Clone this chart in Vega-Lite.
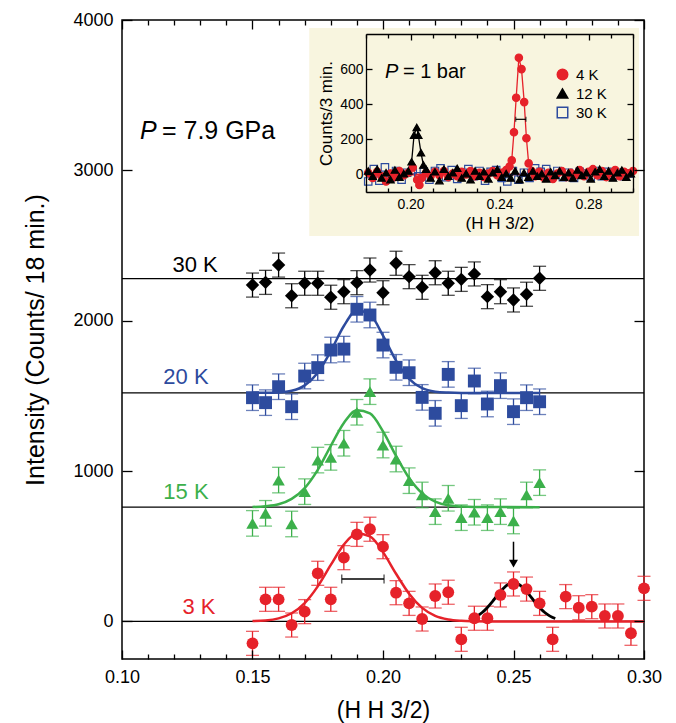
{
"$schema":"https://vega.github.io/schema/vega-lite/v6.json",
"width":522,"height":639,"autosize":"none",
"padding":{"left":122,"top":20,"right":32,"bottom":64},
"config":{"font":"Liberation Sans","view":{"stroke":"#000","strokeWidth":1.5},
 "axis":{"grid":false,"domainColor":"#000","domainWidth":1.5,"tickColor":"#000","tickWidth":1.3,"labelColor":"#000","titleColor":"#000","titleFontWeight":"normal","labelFont":"Liberation Sans","titleFont":"Liberation Sans"},
 "legend":{"orient":"none","legendX":433,"legendY":47,"padding":0,"labelFontSize":15,"labelColor":"#000","symbolSize":110,"symbolStrokeWidth":1.5,"rowPadding":2,"labelOffset":6}},
"datasets":{
 "pts":[
  {"s":"30 K","x":0.150,"y":2237,"e":80},{"s":"30 K","x":0.155,"y":2255,"e":80},{"s":"30 K","x":0.160,"y":2370,"e":80},{"s":"30 K","x":0.165,"y":2166,"e":80},{"s":"30 K","x":0.170,"y":2249,"e":80},{"s":"30 K","x":0.175,"y":2249,"e":80},{"s":"30 K","x":0.180,"y":2156,"e":80},{"s":"30 K","x":0.185,"y":2193,"e":80},{"s":"30 K","x":0.190,"y":2253,"e":80},{"s":"30 K","x":0.195,"y":2337,"e":80},{"s":"30 K","x":0.200,"y":2186,"e":80},{"s":"30 K","x":0.205,"y":2382,"e":80},{"s":"30 K","x":0.210,"y":2293,"e":80},{"s":"30 K","x":0.215,"y":2222,"e":80},{"s":"30 K","x":0.220,"y":2319,"e":80},{"s":"30 K","x":0.225,"y":2249,"e":80},{"s":"30 K","x":0.230,"y":2275,"e":80},{"s":"30 K","x":0.235,"y":2311,"e":80},{"s":"30 K","x":0.240,"y":2160,"e":80},{"s":"30 K","x":0.245,"y":2193,"e":80},{"s":"30 K","x":0.250,"y":2138,"e":80},{"s":"30 K","x":0.255,"y":2176,"e":80},{"s":"30 K","x":0.260,"y":2282,"e":80},
  {"s":"20 K","x":0.150,"y":1488,"e":85},{"s":"20 K","x":0.155,"y":1455,"e":85},{"s":"20 K","x":0.160,"y":1561,"e":85},{"s":"20 K","x":0.165,"y":1428,"e":85},{"s":"20 K","x":0.170,"y":1632,"e":85},{"s":"20 K","x":0.175,"y":1688,"e":85},{"s":"20 K","x":0.180,"y":1805,"e":85},{"s":"20 K","x":0.185,"y":1811,"e":85},{"s":"20 K","x":0.190,"y":2076,"e":85},{"s":"20 K","x":0.195,"y":2038,"e":85},{"s":"20 K","x":0.200,"y":1838,"e":85},{"s":"20 K","x":0.205,"y":1690,"e":85},{"s":"20 K","x":0.210,"y":1654,"e":85},{"s":"20 K","x":0.215,"y":1490,"e":85},{"s":"20 K","x":0.220,"y":1384,"e":85},{"s":"20 K","x":0.225,"y":1643,"e":85},{"s":"20 K","x":0.230,"y":1435,"e":85},{"s":"20 K","x":0.235,"y":1599,"e":85},{"s":"20 K","x":0.240,"y":1446,"e":85},{"s":"20 K","x":0.245,"y":1568,"e":85},{"s":"20 K","x":0.250,"y":1395,"e":85},{"s":"20 K","x":0.255,"y":1488,"e":85},{"s":"20 K","x":0.260,"y":1461,"e":85},
  {"s":"15 K","x":0.150,"y":652,"e":85},{"s":"15 K","x":0.155,"y":719,"e":85},{"s":"15 K","x":0.160,"y":940,"e":85},{"s":"15 K","x":0.165,"y":648,"e":85},{"s":"15 K","x":0.170,"y":863,"e":85},{"s":"15 K","x":0.175,"y":1073,"e":85},{"s":"15 K","x":0.180,"y":1091,"e":85},{"s":"15 K","x":0.185,"y":1185,"e":85},{"s":"15 K","x":0.190,"y":1391,"e":85},{"s":"15 K","x":0.195,"y":1528,"e":85},{"s":"15 K","x":0.200,"y":1173,"e":85},{"s":"15 K","x":0.205,"y":1080,"e":85},{"s":"15 K","x":0.210,"y":936,"e":85},{"s":"15 K","x":0.215,"y":841,"e":85},{"s":"15 K","x":0.220,"y":730,"e":85},{"s":"15 K","x":0.225,"y":819,"e":85},{"s":"15 K","x":0.230,"y":690,"e":85},{"s":"15 K","x":0.235,"y":726,"e":85},{"s":"15 K","x":0.240,"y":690,"e":85},{"s":"15 K","x":0.245,"y":730,"e":85},{"s":"15 K","x":0.250,"y":668,"e":85},{"s":"15 K","x":0.255,"y":841,"e":85},{"s":"15 K","x":0.260,"y":923,"e":85},
  {"s":"3 K","x":0.150,"y":-146,"e":80},{"s":"3 K","x":0.155,"y":147,"e":80},{"s":"3 K","x":0.160,"y":147,"e":80},{"s":"3 K","x":0.165,"y":-24,"e":80},{"s":"3 K","x":0.170,"y":65,"e":80},{"s":"3 K","x":0.175,"y":320,"e":80},{"s":"3 K","x":0.180,"y":147,"e":80},{"s":"3 K","x":0.185,"y":424,"e":80},{"s":"3 K","x":0.190,"y":579,"e":80},{"s":"3 K","x":0.195,"y":613,"e":80},{"s":"3 K","x":0.200,"y":497,"e":80},{"s":"3 K","x":0.205,"y":191,"e":80},{"s":"3 K","x":0.210,"y":120,"e":80},{"s":"3 K","x":0.215,"y":16,"e":80},{"s":"3 K","x":0.220,"y":169,"e":80},{"s":"3 K","x":0.225,"y":194,"e":80},{"s":"3 K","x":0.230,"y":-119,"e":80},{"s":"3 K","x":0.235,"y":21,"e":80},{"s":"3 K","x":0.240,"y":21,"e":80},{"s":"3 K","x":0.245,"y":176,"e":80},{"s":"3 K","x":0.250,"y":249,"e":80},{"s":"3 K","x":0.255,"y":215,"e":80},{"s":"3 K","x":0.260,"y":120,"e":80},{"s":"3 K","x":0.265,"y":-119,"e":80},{"s":"3 K","x":0.270,"y":165,"e":80},{"s":"3 K","x":0.275,"y":91,"e":80},{"s":"3 K","x":0.280,"y":98,"e":80},{"s":"3 K","x":0.285,"y":36,"e":80},{"s":"3 K","x":0.290,"y":36,"e":80},{"s":"3 K","x":0.295,"y":-79,"e":80},{"s":"3 K","x":0.300,"y":220,"e":80}
 ],
 "fits":[
  {"s":"20 K","x":0.150,"y":1520},{"s":"20 K","x":0.155,"y":1520.5},{"s":"20 K","x":0.160,"y":1523},{"s":"20 K","x":0.165,"y":1534},{"s":"20 K","x":0.170,"y":1570},{"s":"20 K","x":0.175,"y":1654},{"s":"20 K","x":0.180,"y":1798},{"s":"20 K","x":0.185,"y":1965},{"s":"20 K","x":0.190,"y":2068},{"s":"20 K","x":0.195,"y":2041},{"s":"20 K","x":0.200,"y":1901},{"s":"20 K","x":0.205,"y":1735},{"s":"20 K","x":0.210,"y":1613},{"s":"20 K","x":0.215,"y":1551},{"s":"20 K","x":0.220,"y":1528},{"s":"20 K","x":0.225,"y":1522},{"s":"20 K","x":0.230,"y":1520},{"s":"20 K","x":0.260,"y":1520},
  {"s":"15 K","x":0.150,"y":761},{"s":"15 K","x":0.155,"y":766},{"s":"15 K","x":0.160,"y":779},{"s":"15 K","x":0.165,"y":815},{"s":"15 K","x":0.170,"y":887},{"s":"15 K","x":0.175,"y":1008},{"s":"15 K","x":0.180,"y":1168},{"s":"15 K","x":0.185,"y":1320},{"s":"15 K","x":0.190,"y":1405},{"s":"15 K","x":0.195,"y":1383},{"s":"15 K","x":0.200,"y":1264},{"s":"15 K","x":0.205,"y":1101},{"s":"15 K","x":0.210,"y":954},{"s":"15 K","x":0.215,"y":852},{"s":"15 K","x":0.220,"y":797},{"s":"15 K","x":0.225,"y":772},{"s":"15 K","x":0.230,"y":764},{"s":"15 K","x":0.235,"y":761},{"s":"15 K","x":0.260,"y":760},
  {"s":"3 K","x":0.150,"y":2},{"s":"3 K","x":0.155,"y":6},{"s":"3 K","x":0.160,"y":20},{"s":"3 K","x":0.165,"y":54},{"s":"3 K","x":0.170,"y":122},{"s":"3 K","x":0.175,"y":233},{"s":"3 K","x":0.180,"y":376},{"s":"3 K","x":0.185,"y":511},{"s":"3 K","x":0.190,"y":585},{"s":"3 K","x":0.195,"y":566},{"s":"3 K","x":0.200,"y":461},{"s":"3 K","x":0.205,"y":317},{"s":"3 K","x":0.210,"y":184},{"s":"3 K","x":0.215,"y":90},{"s":"3 K","x":0.220,"y":37},{"s":"3 K","x":0.225,"y":13},{"s":"3 K","x":0.230,"y":4},{"s":"3 K","x":0.235,"y":1},{"s":"3 K","x":0.240,"y":0},{"s":"3 K","x":0.300,"y":0}
 ],
 "peak":[
  {"x":0.233,"y":12},{"x":0.234,"y":19},{"x":0.236,"y":35},{"x":0.238,"y":59},{"x":0.240,"y":93},{"x":0.242,"y":134},{"x":0.244,"y":178},{"x":0.246,"y":218},{"x":0.248,"y":247},{"x":0.250,"y":257},{"x":0.252,"y":247},{"x":0.254,"y":218},{"x":0.256,"y":178},{"x":0.258,"y":134},{"x":0.260,"y":93},{"x":0.262,"y":59},{"x":0.264,"y":35},{"x":0.266,"y":19}
 ],
 "labels":[{"s":"30 K","x":0.128,"y":2370},{"s":"20 K","x":0.1245,"y":1625},{"s":"15 K","x":0.1245,"y":861},{"s":"3 K","x":0.1295,"y":95}],
 "ins":[
  {"T":"30 K","x":0.181,"y":-40},{"T":"30 K","x":0.1835,"y":30},{"T":"30 K","x":0.186,"y":-35},{"T":"30 K","x":0.1885,"y":40},{"T":"30 K","x":0.191,"y":-20},{"T":"30 K","x":0.1935,"y":20},{"T":"30 K","x":0.196,"y":-30},{"T":"30 K","x":0.1985,"y":10},{"T":"30 K","x":0.201,"y":25},{"T":"30 K","x":0.2035,"y":-10},{"T":"30 K","x":0.206,"y":15},{"T":"30 K","x":0.2085,"y":-30},{"T":"30 K","x":0.211,"y":20},{"T":"30 K","x":0.2135,"y":35},{"T":"30 K","x":0.216,"y":-15},{"T":"30 K","x":0.2185,"y":25},{"T":"30 K","x":0.221,"y":-25},{"T":"30 K","x":0.2235,"y":10},{"T":"30 K","x":0.226,"y":30},{"T":"30 K","x":0.2285,"y":-10},{"T":"30 K","x":0.231,"y":20},{"T":"30 K","x":0.2335,"y":-35},{"T":"30 K","x":0.236,"y":15},{"T":"30 K","x":0.2385,"y":25},{"T":"30 K","x":0.241,"y":-20},{"T":"30 K","x":0.2435,"y":-40},{"T":"30 K","x":0.246,"y":20},{"T":"30 K","x":0.2485,"y":-30},{"T":"30 K","x":0.251,"y":10},{"T":"30 K","x":0.2535,"y":-20},{"T":"30 K","x":0.256,"y":35},{"T":"30 K","x":0.2585,"y":15},{"T":"30 K","x":0.261,"y":30},{"T":"30 K","x":0.2635,"y":-10},{"T":"30 K","x":0.266,"y":20},{"T":"30 K","x":0.2685,"y":-15},{"T":"30 K","x":0.271,"y":10},{"T":"30 K","x":0.2735,"y":-20},{"T":"30 K","x":0.276,"y":15},{"T":"30 K","x":0.2785,"y":5},{"T":"30 K","x":0.281,"y":-15},{"T":"30 K","x":0.2835,"y":20},{"T":"30 K","x":0.286,"y":-10},{"T":"30 K","x":0.2885,"y":15},{"T":"30 K","x":0.291,"y":-5},{"T":"30 K","x":0.2935,"y":10},{"T":"30 K","x":0.296,"y":-10},{"T":"30 K","x":0.2985,"y":5},
  {"T":"4 K","x":0.181,"y":10},{"T":"4 K","x":0.183,"y":-20},{"T":"4 K","x":0.185,"y":15},{"T":"4 K","x":0.187,"y":-10},{"T":"4 K","x":0.189,"y":-40},{"T":"4 K","x":0.191,"y":5},{"T":"4 K","x":0.193,"y":-15},{"T":"4 K","x":0.195,"y":20},{"T":"4 K","x":0.197,"y":-5},{"T":"4 K","x":0.199,"y":10},{"T":"4 K","x":0.201,"y":40},{"T":"4 K","x":0.203,"y":-30},{"T":"4 K","x":0.204,"y":-60},{"T":"4 K","x":0.205,"y":-20},{"T":"4 K","x":0.207,"y":10},{"T":"4 K","x":0.209,"y":-10},{"T":"4 K","x":0.211,"y":15},{"T":"4 K","x":0.213,"y":-5},{"T":"4 K","x":0.215,"y":20},{"T":"4 K","x":0.217,"y":-15},{"T":"4 K","x":0.219,"y":5},{"T":"4 K","x":0.221,"y":-10},{"T":"4 K","x":0.223,"y":15},{"T":"4 K","x":0.225,"y":0},{"T":"4 K","x":0.227,"y":20},{"T":"4 K","x":0.229,"y":-10},{"T":"4 K","x":0.231,"y":10},{"T":"4 K","x":0.233,"y":-15},{"T":"4 K","x":0.235,"y":5},{"T":"4 K","x":0.237,"y":20},{"T":"4 K","x":0.239,"y":-5},{"T":"4 K","x":0.241,"y":10},{"T":"4 K","x":0.243,"y":25},{"T":"4 K","x":0.2445,"y":45},{"T":"4 K","x":0.2455,"y":80},{"T":"4 K","x":0.2465,"y":240},{"T":"4 K","x":0.2475,"y":437},{"T":"4 K","x":0.2487,"y":665},{"T":"4 K","x":0.2499,"y":600},{"T":"4 K","x":0.2511,"y":412},{"T":"4 K","x":0.2521,"y":206},{"T":"4 K","x":0.2531,"y":63},{"T":"4 K","x":0.2545,"y":20},{"T":"4 K","x":0.256,"y":-10},{"T":"4 K","x":0.258,"y":15},{"T":"4 K","x":0.260,"y":-20},{"T":"4 K","x":0.262,"y":10},{"T":"4 K","x":0.264,"y":-25},{"T":"4 K","x":0.266,"y":5},{"T":"4 K","x":0.268,"y":20},{"T":"4 K","x":0.270,"y":-15},{"T":"4 K","x":0.272,"y":10},{"T":"4 K","x":0.274,"y":-5},{"T":"4 K","x":0.276,"y":25},{"T":"4 K","x":0.278,"y":-10},{"T":"4 K","x":0.280,"y":15},{"T":"4 K","x":0.282,"y":30},{"T":"4 K","x":0.284,"y":-5},{"T":"4 K","x":0.286,"y":20},{"T":"4 K","x":0.288,"y":-15},{"T":"4 K","x":0.290,"y":10},{"T":"4 K","x":0.292,"y":25},{"T":"4 K","x":0.294,"y":-10},{"T":"4 K","x":0.296,"y":15},{"T":"4 K","x":0.298,"y":5},{"T":"4 K","x":0.300,"y":20},
  {"T":"12 K","x":0.181,"y":20},{"T":"12 K","x":0.183,"y":-10},{"T":"12 K","x":0.185,"y":30},{"T":"12 K","x":0.187,"y":-20},{"T":"12 K","x":0.189,"y":10},{"T":"12 K","x":0.191,"y":-30},{"T":"12 K","x":0.193,"y":25},{"T":"12 K","x":0.195,"y":-15},{"T":"12 K","x":0.197,"y":5},{"T":"12 K","x":0.199,"y":20},{"T":"12 K","x":0.2005,"y":72},{"T":"12 K","x":0.2016,"y":224},{"T":"12 K","x":0.2028,"y":268},{"T":"12 K","x":0.2035,"y":224},{"T":"12 K","x":0.2047,"y":124},{"T":"12 K","x":0.2058,"y":54},{"T":"12 K","x":0.207,"y":30},{"T":"12 K","x":0.209,"y":-20},{"T":"12 K","x":0.211,"y":15},{"T":"12 K","x":0.213,"y":-35},{"T":"12 K","x":0.215,"y":30},{"T":"12 K","x":0.217,"y":-10},{"T":"12 K","x":0.219,"y":10},{"T":"12 K","x":0.221,"y":35},{"T":"12 K","x":0.223,"y":-20},{"T":"12 K","x":0.225,"y":5},{"T":"12 K","x":0.227,"y":-30},{"T":"12 K","x":0.229,"y":20},{"T":"12 K","x":0.231,"y":-10},{"T":"12 K","x":0.233,"y":15},{"T":"12 K","x":0.235,"y":-25},{"T":"12 K","x":0.237,"y":10},{"T":"12 K","x":0.239,"y":30},{"T":"12 K","x":0.241,"y":-15},{"T":"12 K","x":0.243,"y":5},{"T":"12 K","x":0.245,"y":-20},{"T":"12 K","x":0.247,"y":20},{"T":"12 K","x":0.249,"y":-30},{"T":"12 K","x":0.251,"y":10},{"T":"12 K","x":0.253,"y":-15},{"T":"12 K","x":0.255,"y":20},{"T":"12 K","x":0.257,"y":-10},{"T":"12 K","x":0.259,"y":5},{"T":"12 K","x":0.261,"y":-25},{"T":"12 K","x":0.263,"y":15},{"T":"12 K","x":0.265,"y":-5},{"T":"12 K","x":0.267,"y":20},{"T":"12 K","x":0.269,"y":-15},{"T":"12 K","x":0.271,"y":10},{"T":"12 K","x":0.273,"y":-20},{"T":"12 K","x":0.275,"y":25},{"T":"12 K","x":0.277,"y":-5},{"T":"12 K","x":0.279,"y":10},{"T":"12 K","x":0.281,"y":-25},{"T":"12 K","x":0.283,"y":15},{"T":"12 K","x":0.285,"y":30},{"T":"12 K","x":0.287,"y":-10},{"T":"12 K","x":0.289,"y":20},{"T":"12 K","x":0.291,"y":-20},{"T":"12 K","x":0.293,"y":10},{"T":"12 K","x":0.295,"y":25},{"T":"12 K","x":0.297,"y":-15},{"T":"12 K","x":0.299,"y":5}
 ]
},
"layer":[
 {"layer":[
  {"data":{"values":[{"b":0},{"b":760},{"b":1520},{"b":2280}]},"mark":{"type":"rule","color":"#000","strokeWidth":1.2},
   "encoding":{"y":{"field":"b","type":"quantitative","scale":{"domain":[-250,4000],"nice":false,"zero":false},"axis":null}}},
  {"data":{"name":"pts"},"mark":{"type":"errorbar","ticks":{"size":13},"thickness":1.3},
   "encoding":{"x":{"field":"x","type":"quantitative","scale":{"domain":[0.1,0.3],"nice":false,"zero":false},"axis":null},
    "y":{"field":"y","type":"quantitative","axis":null},"yError":{"field":"e"},
    "color":{"field":"s","type":"nominal","scale":{"domain":["30 K","20 K","15 K","3 K"],"range":["#000000","#2d4b9e","#3cb04b","#e6222a"]},"legend":null}}},
  {"data":{"name":"fits"},"mark":{"type":"line","strokeWidth":2.5,"interpolate":"monotone"},
   "encoding":{
    "x":{"field":"x","type":"quantitative","axis":{"orient":"top","offset":-639,"zindex":1,"values":[0.1,0.11,0.12,0.13,0.14,0.15,0.16,0.17,0.18,0.19,0.2,0.21,0.22,0.23,0.24,0.25,0.26,0.27,0.28,0.29,0.3],"labels":false,"domain":false,"title":null,
      "tickSize":{"condition":{"test":"abs(datum.value*20-round(datum.value*20))<0.01","value":9},"value":5}}},
    "y":{"field":"y","type":"quantitative","axis":{"orient":"right","offset":-522,"zindex":1,"values":[0,1000,2000,3000,4000],"labels":false,"domain":false,"title":null,"tickSize":10}},
    "color":{"field":"s","type":"nominal","legend":null}}},
  {"data":{"name":"peak"},"mark":{"type":"line","strokeWidth":2.8,"color":"#000","interpolate":"monotone"},
   "encoding":{
    "x":{"field":"x","type":"quantitative","axis":{"orient":"bottom","offset":-639,"zindex":1,"values":[0.1,0.11,0.12,0.13,0.14,0.15,0.16,0.17,0.18,0.19,0.2,0.21,0.22,0.23,0.24,0.25,0.26,0.27,0.28,0.29,0.3],"labels":false,"domain":false,"title":null,
      "tickSize":{"condition":{"test":"abs(datum.value*20-round(datum.value*20))<0.01","value":9},"value":5}}},
    "y":{"field":"y","type":"quantitative","axis":{"orient":"left","offset":-522,"zindex":1,"values":[0,1000,2000,3000,4000],"labels":false,"domain":false,"title":null,"tickSize":10}}}},
  {"data":{"name":"pts"},"mark":{"type":"point","filled":true,"opacity":1},
   "encoding":{
    "x":{"field":"x","type":"quantitative","scale":{"domain":[0.1,0.3],"nice":false,"zero":false},
     "axis":{"orient":"bottom","zindex":1,"ticks":false,"domain":false,"values":[0.1,0.15,0.2,0.25,0.3],"format":".2f",
      "labelFontSize":18,"labelPadding":9,"labelFlush":false,"labelOverlap":false,"title":"(H H 3/2)","titleFontSize":23,"titlePadding":13}},
    "y":{"field":"y","type":"quantitative","scale":{"domain":[-250,4000],"nice":false,"zero":false},
     "axis":{"orient":"left","zindex":1,"ticks":false,"domain":false,"values":[0,1000,2000,3000,4000],"format":"d","labelFontSize":18,"labelPadding":9,"labelFlush":false,"title":"Intensity (Counts/ 18 min.)","titleFontSize":25,"titlePadding":24}},
    "color":{"field":"s","type":"nominal","legend":null},
    "shape":{"field":"s","type":"nominal","scale":{"domain":["30 K","20 K","15 K","3 K"],"range":["diamond","square","triangle-up","circle"]},"legend":null},
    "size":{"field":"s","type":"ordinal","scale":{"domain":["30 K","20 K","15 K","3 K"],"range":[180,140,160,135]},"legend":null}}},
  {"data":{"name":"labels"},"mark":{"type":"text","fontSize":22,"align":"center","baseline":"middle"},
   "encoding":{"x":{"field":"x","type":"quantitative","axis":null},"y":{"field":"y","type":"quantitative","axis":null},"text":{"field":"s"},"color":{"field":"s","type":"nominal","legend":null}}},
  {"data":{"values":[{"t":"P","x":0.1069,"y":3262}]},"mark":{"type":"text","fontSize":25,"fontStyle":"italic","align":"left","baseline":"middle","color":"#000"},
   "encoding":{"x":{"field":"x","type":"quantitative","axis":null},"y":{"field":"y","type":"quantitative","axis":null},"text":{"field":"t"}}},
  {"data":{"values":[{"t":"= 7.9 GPa","x":0.1153,"y":3262}]},"mark":{"type":"text","fontSize":25,"align":"left","baseline":"middle","color":"#000"},
   "encoding":{"x":{"field":"x","type":"quantitative","axis":null},"y":{"field":"y","type":"quantitative","axis":null},"text":{"field":"t"}}},
  {"data":{"values":[{"x1":0.1842,"x2":0.2004,"y":282}]},"mark":{"type":"rule","color":"#000","strokeWidth":1.3},
   "encoding":{"x":{"field":"x1","type":"quantitative","axis":null},"x2":{"field":"x2"},"y":{"field":"y","type":"quantitative","axis":null}}},
  {"data":{"values":[{"x":0.1842,"y":282},{"x":0.2004,"y":282}]},"mark":{"type":"tick","orient":"vertical","size":9,"thickness":1.3,"color":"#000"},
   "encoding":{"x":{"field":"x","type":"quantitative","axis":null},"y":{"field":"y","type":"quantitative","axis":null}}},
  {"data":{"values":[{"x":0.25,"y1":530,"y2":400}]},"mark":{"type":"rule","color":"#000","strokeWidth":1.5},
   "encoding":{"x":{"field":"x","type":"quantitative","axis":null},"y":{"field":"y1","type":"quantitative","axis":null},"y2":{"field":"y2"}}},
  {"data":{"values":[{"x":0.25,"y":385}]},"mark":{"type":"point","shape":"triangle-down","filled":true,"color":"#000","size":80,"opacity":1},
   "encoding":{"x":{"field":"x","type":"quantitative","axis":null},"y":{"field":"y","type":"quantitative","axis":null}}}
 ],"resolve":{"axis":{"x":"independent","y":"independent"}}},
 {"layer":[
  {"data":{"values":[{"x1":0.1545,"x2":0.3027,"y1":-351,"y2":834}]},"mark":{"type":"rect","fill":"#f8f5df"},
   "encoding":{"x":{"field":"x1","type":"quantitative","scale":{"domain":[0.18,0.3],"range":[244,511],"nice":false,"zero":false},"axis":null},"x2":{"field":"x2"},
    "y":{"field":"y1","type":"quantitative","scale":{"domain":[-100,800],"range":[172,14],"nice":false,"zero":false},"axis":null},"y2":{"field":"y2"}}},
  {"data":{"values":[{"x":0.18,"y":0},{"x":0.3,"y":0}]},"mark":{"type":"line","color":"#e6222a","strokeWidth":2},
   "encoding":{
    "x":{"field":"x","type":"quantitative","axis":{"orient":"top","offset":-172,"zindex":1,"values":[0.18,0.19,0.2,0.21,0.22,0.23,0.24,0.25,0.26,0.27,0.28,0.29,0.3],"labels":false,"domain":true,"domainWidth":1.3,"title":null,
      "tickSize":{"condition":{"test":"abs(datum.value-0.2)<0.001||abs(datum.value-0.24)<0.001||abs(datum.value-0.28)<0.001","value":6},"value":4}}},
    "y":{"field":"y","type":"quantitative","axis":{"orient":"right","offset":-278,"zindex":1,"values":[0,200,400,600],"labels":false,"domain":true,"domainWidth":1.3,"title":null,"tickSize":6}}}},
  {"data":{"name":"ins"},"transform":[{"filter":"datum.T=='4 K'"}],"mark":{"type":"line","color":"#e6222a","strokeWidth":1.3},
   "encoding":{
    "x":{"field":"x","type":"quantitative","axis":{"orient":"bottom","offset":-625,"zindex":1,"values":[0.18,0.19,0.2,0.21,0.22,0.23,0.24,0.25,0.26,0.27,0.28,0.29,0.3],"labels":false,"domain":true,"domainWidth":1.3,"title":null,
      "tickSize":{"condition":{"test":"abs(datum.value-0.2)<0.001||abs(datum.value-0.24)<0.001||abs(datum.value-0.28)<0.001","value":6},"value":4}}},
    "y":{"field":"y","type":"quantitative","axis":{"orient":"left","offset":-511,"zindex":1,"values":[0,200,400,600],"labels":false,"domain":true,"domainWidth":1.3,"title":null,"tickSize":6}}}},
  {"data":{"name":"ins"},"transform":[{"filter":"datum.T=='12 K'"}],"mark":{"type":"line","color":"#000","strokeWidth":1.3},
   "encoding":{"x":{"field":"x","type":"quantitative","axis":null},"y":{"field":"y","type":"quantitative","axis":null}}},
  {"data":{"name":"ins"},"mark":{"type":"point","filled":true,"opacity":1,"size":55,"strokeWidth":1.2},
   "encoding":{
    "x":{"field":"x","type":"quantitative","axis":{"orient":"bottom","offset":-467,"zindex":1,"ticks":false,"domain":false,"values":[0.2,0.24,0.28],"format":".2f",
      "labelFontSize":14,"labelPadding":5,"labelFlush":false,"labelOverlap":false,"title":"(H H 3/2)","titleFontSize":17,"titlePadding":4}},
    "y":{"field":"y","type":"quantitative","axis":{"orient":"left","offset":-244,"zindex":1,"ticks":false,"domain":false,"values":[0,200,400,600],"format":"d","labelFontSize":14,"labelPadding":3,"labelFlush":false,"title":"Counts/3 min.","titleFontSize":17,"titlePadding":4}},
    "fill":{"field":"T","type":"nominal","scale":{"domain":["4 K","12 K","30 K"],"range":["#e6222a","#000000","transparent"]},"legend":{"title":null}},
    "stroke":{"field":"T","type":"nominal","scale":{"domain":["4 K","12 K","30 K"],"range":["#e6222a","#000000","#2d4b9e"]},"legend":{"title":null}},
    "shape":{"field":"T","type":"nominal","scale":{"domain":["4 K","12 K","30 K"],"range":["circle","triangle-up","square"]},"legend":{"title":null}}}},
  {"data":{"values":[{"x1":0.2473,"x2":0.2519,"y":314}]},"mark":{"type":"rule","color":"#000","strokeWidth":1.2},
   "encoding":{"x":{"field":"x1","type":"quantitative","axis":null},"x2":{"field":"x2"},"y":{"field":"y","type":"quantitative","axis":null}}},
  {"data":{"values":[{"x":0.2473,"y":314},{"x":0.2519,"y":314}]},"mark":{"type":"tick","orient":"vertical","size":5,"thickness":1.2,"color":"#000"},
   "encoding":{"x":{"field":"x","type":"quantitative","axis":null},"y":{"field":"y","type":"quantitative","axis":null}}},
  {"data":{"values":[{"t":"P","x":0.1885,"y":585}]},"mark":{"type":"text","fontSize":20,"fontStyle":"italic","align":"left","baseline":"middle","color":"#000"},
   "encoding":{"x":{"field":"x","type":"quantitative","axis":null},"y":{"field":"y","type":"quantitative","axis":null},"text":{"field":"t"}}},
  {"data":{"values":[{"t":"= 1 bar","x":0.1966,"y":585}]},"mark":{"type":"text","fontSize":20,"align":"left","baseline":"middle","color":"#000"},
   "encoding":{"x":{"field":"x","type":"quantitative","axis":null},"y":{"field":"y","type":"quantitative","axis":null},"text":{"field":"t"}}}
 ],"resolve":{"axis":{"x":"independent","y":"independent"}}}
],
"resolve":{"scale":{"x":"independent","y":"independent","color":"independent","shape":"independent","size":"independent","fill":"independent","stroke":"independent"},"axis":{"x":"independent","y":"independent"}}
}
